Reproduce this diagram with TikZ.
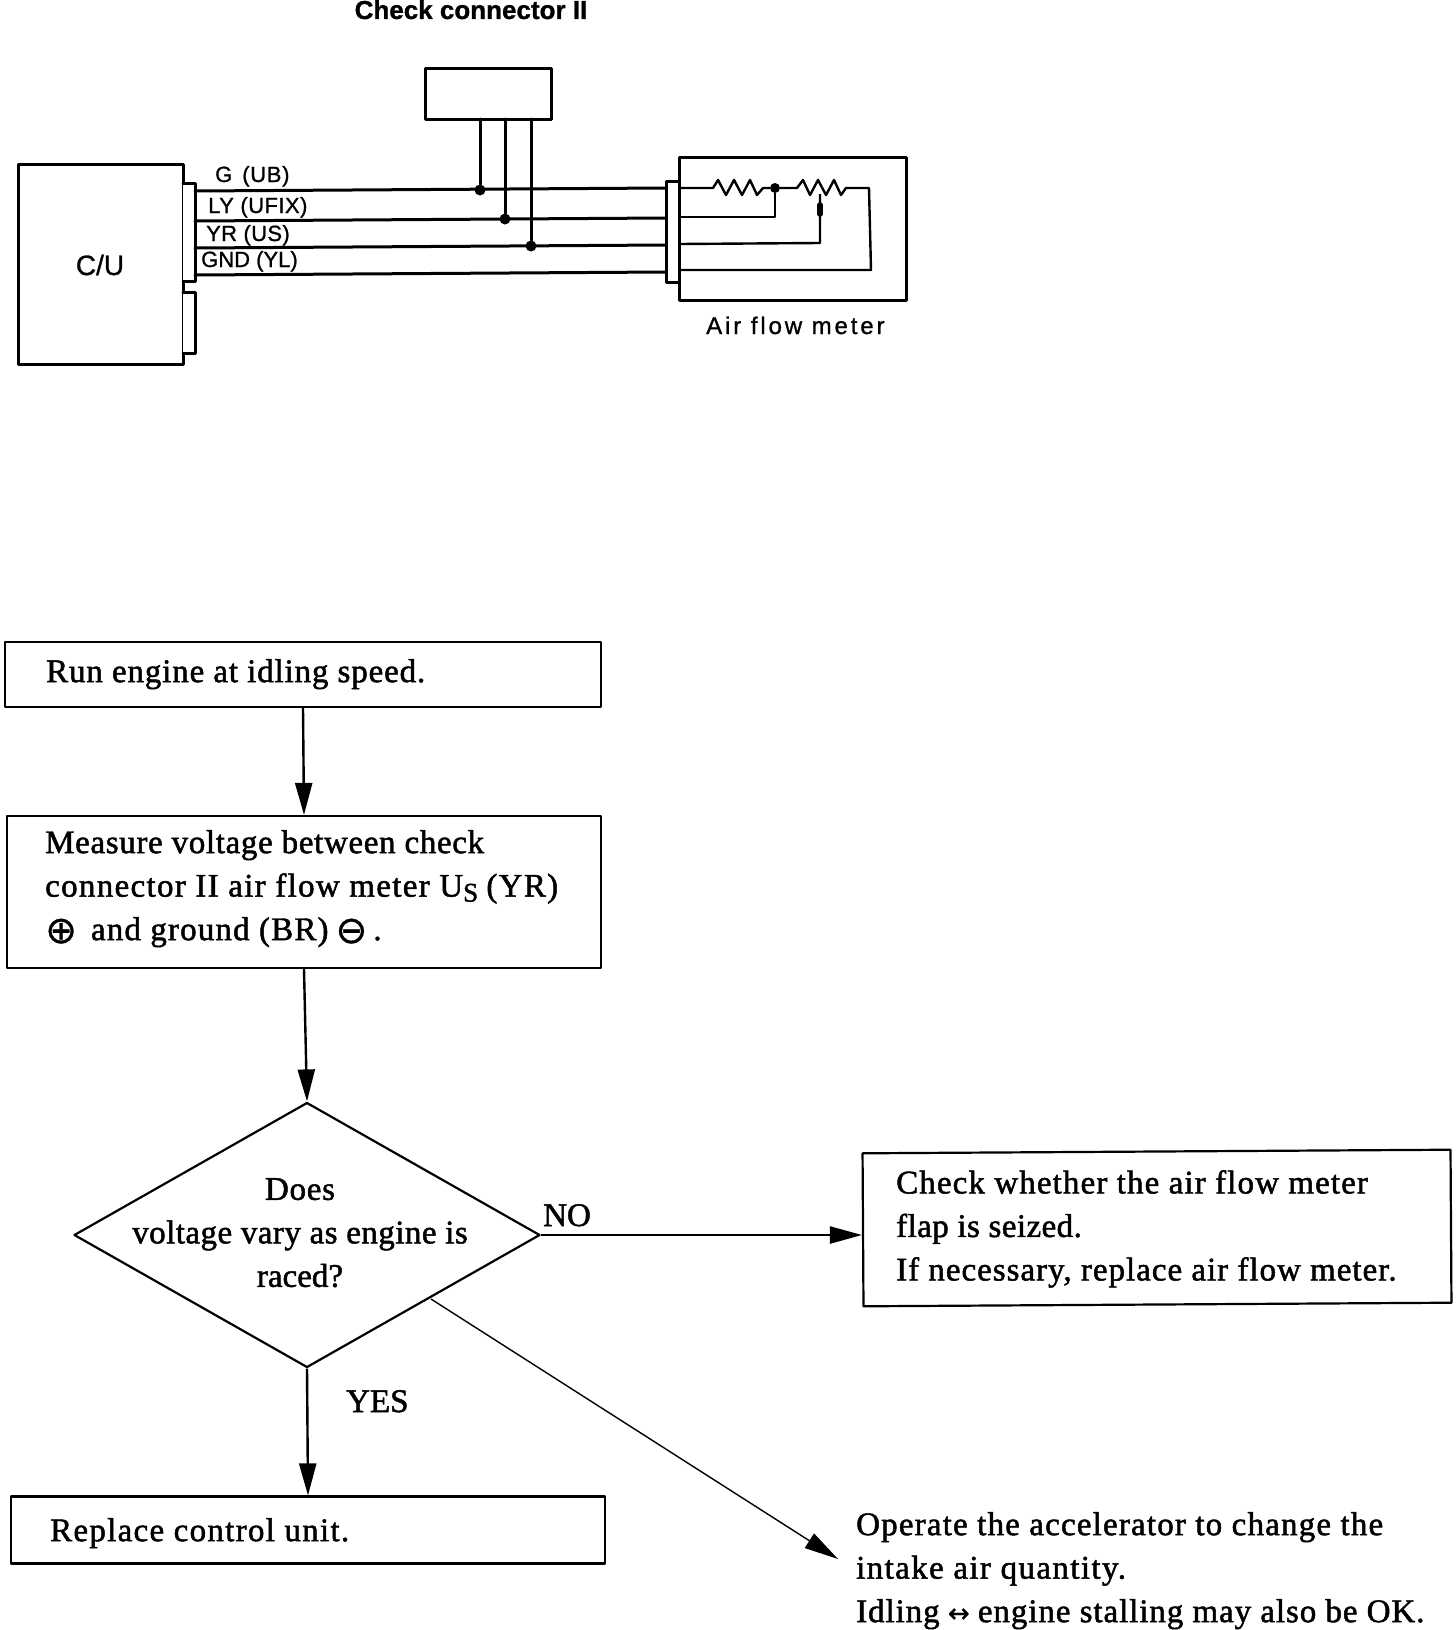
\documentclass[tikz,border=0pt]{standalone}
\usepackage{fontspec}
\usetikzlibrary{arrows.meta,shapes.geometric}
\setmainfont{Liberation Serif}[FakeBold=1.5]
\setsansfont{Liberation Sans}[FakeBold=1.0]
\newfontfamily\symf{DejaVu Sans}[FakeBold=0.8]
\newcommand{\ftxt}{\fontsize{33}{43.5}\selectfont}
\newcommand{\fsans}{\sffamily\bfseries\fontsize{26}{30}\selectfont}
\newcommand{\flab}{\sffamily\fontsize{22}{26}\selectfont}
\newcommand{\ls}[2]{{\addfontfeatures{LetterSpace=#1}#2}}
\tikzset{
  x=1pt,y=-1pt,
  wire/.style={line width=3pt,line cap=round,line join=round,draw=black},
  fine/.style={line width=2.4pt,line join=round,draw=black},
  part/.style={wire,fill=white},
  flowbox/.style={line width=2.2pt,line join=round,draw=black,fill=white},
  flow/.style={line width=2.4pt,draw=black,-{Triangle[width=17pt,length=32pt]}},
  thinflow/.style={line width=1.4pt,draw=black,-{Triangle[width=17pt,length=34pt]}},
  junction/.style={circle,fill=black,inner sep=0pt,minimum size=11pt},
  flowtext/.style={font=\ftxt,anchor=north west,inner sep=0pt,align=left},
  center text/.style={font=\ftxt,anchor=north,inner sep=0pt,align=center},
  lab/.style={font=\flab,anchor=base west,inner sep=0pt},
}
\begin{document}
\begin{tikzpicture}
\useasboundingbox[fill=white] (0,0) rectangle (1456,1630);
% --- wiring diagram ---
\node[font=\fsans,anchor=base,inner sep=0pt] (chktitle) at (471,19) {Check connector II};
\draw[part] (425,68) rectangle (551,119);
\coordinate (chk1) at (480,119); \coordinate (chk2) at (505,119); \coordinate (chk3) at (531,119);
\draw[part] (18,164) rectangle (183,364);
\node[font=\sffamily\fontsize{28}{30}\selectfont,inner sep=0pt] (cu) at (100,265) {C/U};
\draw[part] (183,183) -- (195,183) -- (195,281) -- (183,281);
\draw[part] (183,292) -- (195,292) -- (195,353) -- (183,353);
% air flow meter
\draw[part] (679,157) rectangle (906,300);
\draw[part] (666,181) rectangle (679,282);
\node[lab,font=\sffamily\fontsize{24}{26}\selectfont\addfontfeatures{LetterSpace=12}] (afm) at (706,334) {Air flow meter};
% wires
\coordinate (w1l) at (195,191); \coordinate (w1r) at (666,188);
\coordinate (w2l) at (195,221); \coordinate (w2r) at (666,218);
\coordinate (w3l) at (195,248); \coordinate (w3r) at (666,245);
\coordinate (w4l) at (195,275); \coordinate (w4r) at (666,272);
\draw[wire] (w1l) -- (w1r); \draw[wire] (w2l) -- (w2r);
\draw[wire] (w3l) -- (w3r); \draw[wire] (w4l) -- (w4r);
\node[junction] (j1) at (480,190) {};
\node[junction] (j2) at (505,219) {};
\node[junction] (j3) at (531,246) {};
\draw[wire] (chk1) -- (j1); \draw[wire] (chk2) -- (j2); \draw[wire] (chk3) -- (j3);
% labels
\node[lab] (lg) at (215,182) {G\hspace{10pt}\ls{3}{(UB)}};
\node[lab] (lly) at (208,213) {\ls{2}{LY (UFIX)}};
\node[lab] (lyr) at (206,241) {\ls{1.5}{YR (US)}};
\node[lab] (lgnd) at (201,267) {GND (YL)};
% resistors
\node[junction,minimum size=10pt] (rj) at (775,188) {};
\coordinate (inl1) at (679,188);
\coordinate (inl2) at (679,217);
\coordinate (inl3) at (679,244);
\coordinate (inl4) at (679,270);
\coordinate (rend) at (869,188);
\coordinate (wipe) at (820,194);
\draw[fine] (inl1) -- (713,188) -- (718,180) -- (726,195) -- (734,180) -- (742,195) -- (750,180) -- (757,195) -- (763,188) -- (rj);
\draw[fine] (rj) -- (797,188) -- (803,180) -- (810,195) -- (818,180) -- (826,195) -- (834,180) -- (841,195) -- (846,188) -- (rend) -- (871,270) -- (inl4);
\draw[fine] (rj) -- (775,217) -- (inl2);
\draw[fine] (wipe) -- (820,243) -- (inl3);
\draw[line width=5.5pt,line cap=round] (820,205) -- (820,214);
% --- flow chart ---
\node[draw,flowbox,rectangle,minimum width=596pt,minimum height=65pt,inner sep=0pt] (b1) at (303,674.5) {};
\node[flowtext] (t1) at (46,659) {\ls{2.6}{Run engine at idling speed.}};
\node[draw,flowbox,rectangle,minimum width=594pt,minimum height=152pt,inner sep=0pt] (b2) at (304,892) {};
\node[flowtext] (t2) at (45,830) {\ls{2}{Measure voltage between check}\\\ls{4}{connector II air flow meter U}\raisebox{-5pt}{\fontsize{27}{27}\selectfont S} \ls{4}{(YR)}\\\raisebox{-3pt}{\symf\fontsize{38}{38}\selectfont ⊕}\hspace{14pt}\ls{3.5}{and ground (BR)}\hspace{7pt}\raisebox{-3pt}{\symf\fontsize{38}{38}\selectfont ⊖}\hspace{6pt}.};
\node[draw,flowbox,diamond,shape aspect=1.75,minimum width=466pt,minimum height=265pt,inner sep=0pt] (d1) at (307,1235) {};
\node[center text] (t3) at (300,1178) {\ls{2.2}{Does}\\\ls{1.4}{voltage vary as engine is}\\raced?};
\node[draw,flowbox,rectangle,minimum width=588pt,minimum height=153pt,inner sep=0pt,rotate=0.35] (b3) at (1157,1228) {};
\node[flowtext] (t4) at (896,1170) {\ls{3.4}{Check whether the air flow meter}\\\ls{1.3}{flap is seized.}\\\ls{3}{If necessary, replace air flow meter.}};
\node[draw,flowbox,rectangle,minimum width=594pt,minimum height=67pt,inner sep=0pt] (b4) at (308,1530) {};
\node[flowtext] (t5) at (50,1518) {\ls{3.9}{Replace control unit.}};
\node[flowtext] (t6) at (856,1512) {\ls{3.6}{Operate the accelerator to change the}\\\ls{4.2}{intake air quantity.}\\\ls{2.8}{Idling} {\symf\fontsize{26}{26}\selectfont ↔} \ls{2.8}{engine stalling may also be OK.}};
\coordinate (opin) at (838,1559);
\coordinate (dside) at (431,1299);
\draw[flow] (b1.south) -- (b2.north);
\draw[flow] (b2.south) -- (d1.north);
\draw[flow] (d1.east) -- (d1.east -| b3.west);
\draw[flow] (d1.south) -- (b4.north);
\draw[thinflow] (dside) -- (opin);
\node[font=\ftxt,anchor=base west,inner sep=0pt] (no) at (543,1226) {NO};
\node[font=\ftxt,anchor=base west,inner sep=0pt] (yes) at (346,1412) {YES};
\end{tikzpicture}
\end{document}
